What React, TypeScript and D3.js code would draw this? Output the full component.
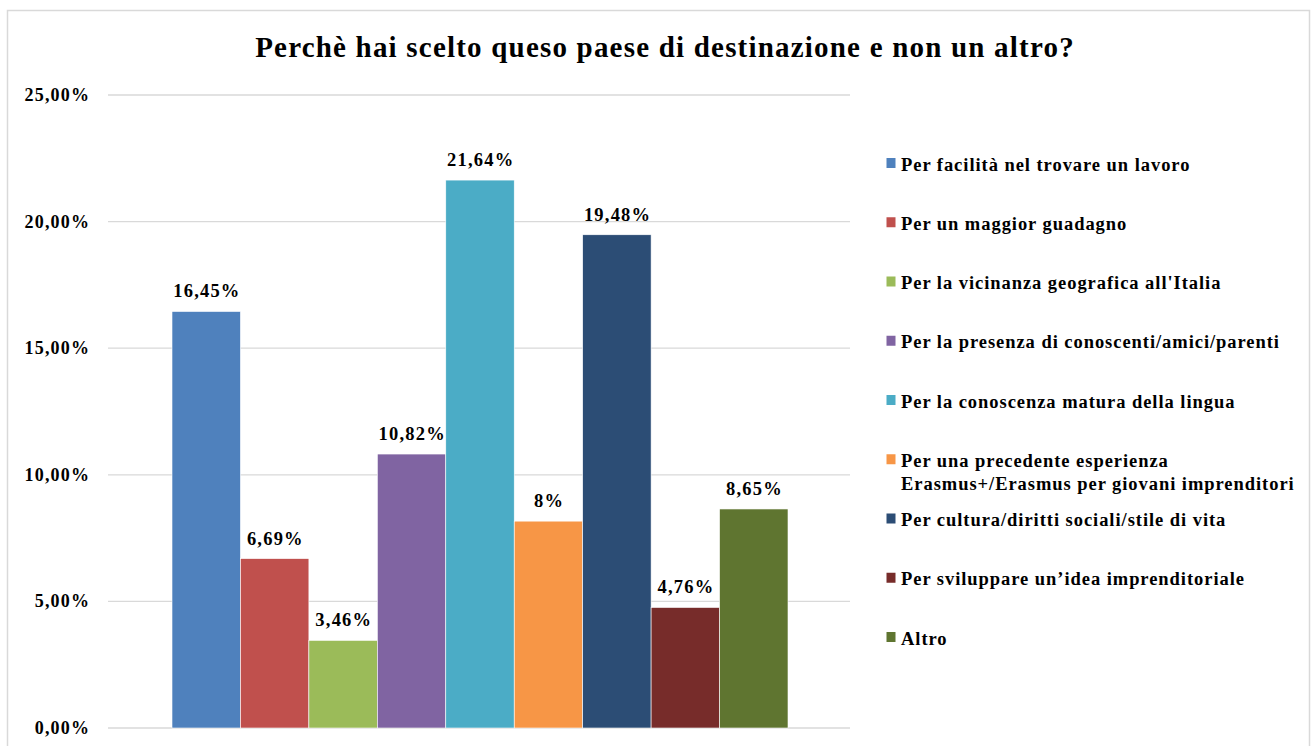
import React from 'react';
import * as d3 from 'd3';

const categories = [
  'Per facilità nel trovare un lavoro',
  'Per un maggior guadagno',
  "Per la vicinanza geografica all'Italia",
  'Per la presenza di conoscenti/amici/parenti',
  'Per la conoscenza matura della lingua',
  'Per una precedente esperienza\nErasmus+/Erasmus per giovani imprenditori',
  'Per cultura/diritti sociali/stile di vita',
  'Per sviluppare un\u2019idea imprenditoriale',
  'Altro',
];
const values = [16.45, 6.69, 3.46, 10.82, 21.64, 8.17, 19.48, 4.76, 8.65];
const valueLabels = ['16,45%', '6,69%', '3,46%', '10,82%', '21,64%', '8%', '19,48%', '4,76%', '8,65%'];
const colors = ['#4F81BD', '#C0504D', '#9BBB59', '#8064A2', '#4BACC6', '#F79646', '#2C4D75', '#772C2A', '#5F7530'];
const yTicks = [0, 5, 10, 15, 20, 25];

const W = 1312;
const H = 746;
const font = "'Liberation Serif', 'Times New Roman', Tinos, serif";

export default function App() {
  const y = d3.scaleLinear().domain([0, 25]).range([728, 95]);
  const x = d3.scaleBand<number>().domain(d3.range(categories.length)).range([172, 788]).padding(0);
  const legendY = d3.scaleLinear().domain([0, 8]).range([164, 638]);
  const fmt = (v: number) => d3.format('.2f')(v).replace('.', ',') + '%';

  return (
    <svg width={W} height={H} style={{ position: 'absolute', left: 0, top: 0, background: '#fff', fontFamily: font }}>
      <rect x={7.5} y={10.5} width={1302} height={745} fill="#fff" stroke="#d9d9d9" strokeWidth={1.5} />
      <text x={665} y={57} textAnchor="middle" fontSize={29} fontWeight="bold" letterSpacing={1.2}>
        Perchè hai scelto queso paese di destinazione e non un altro?
      </text>

      {/* gridlines + y labels */}
      {yTicks.map(t => (
        <g key={t}>
          <line x1={108} x2={850} y1={y(t)} y2={y(t)} stroke="#d9d9d9" strokeWidth={1.3} />
          <text x={89 + 1.2} y={y(t) + 6} textAnchor="end" fontSize={18} fontWeight="bold" letterSpacing={1.2}>
            {fmt(t)}
          </text>
        </g>
      ))}

      {/* bars */}
      {values.map((v, i) => (
        <g key={i}>
          <rect x={x(i)} y={y(v)} width={x.bandwidth()} height={y(0) - y(v)} fill={colors[i]} stroke="#fff" strokeWidth={0.6} />
          <text x={(x(i) as number) + x.bandwidth() / 2 + 0.7} y={y(v) - 14} textAnchor="middle" fontSize={18.5} fontWeight="bold" letterSpacing={1.2}>
            {valueLabels[i]}
          </text>
        </g>
      ))}

      {/* legend */}
      {categories.map((c, i) => {
        const lines = c.split('\n');
        const ly = legendY(i);
        return (
          <g key={c}>
            <rect x={886.5} y={ly - 6} width={9} height={10} fill={colors[i]} />
            <text y={ly + 6.5} fontSize={18.5} fontWeight="bold" letterSpacing={0.95}>
              {lines.map((l, j) => (
                <tspan key={j} x={901} dy={j === 0 ? 0 : 23}>{l}</tspan>
              ))}
            </text>
          </g>
        );
      })}
    </svg>
  );
}
